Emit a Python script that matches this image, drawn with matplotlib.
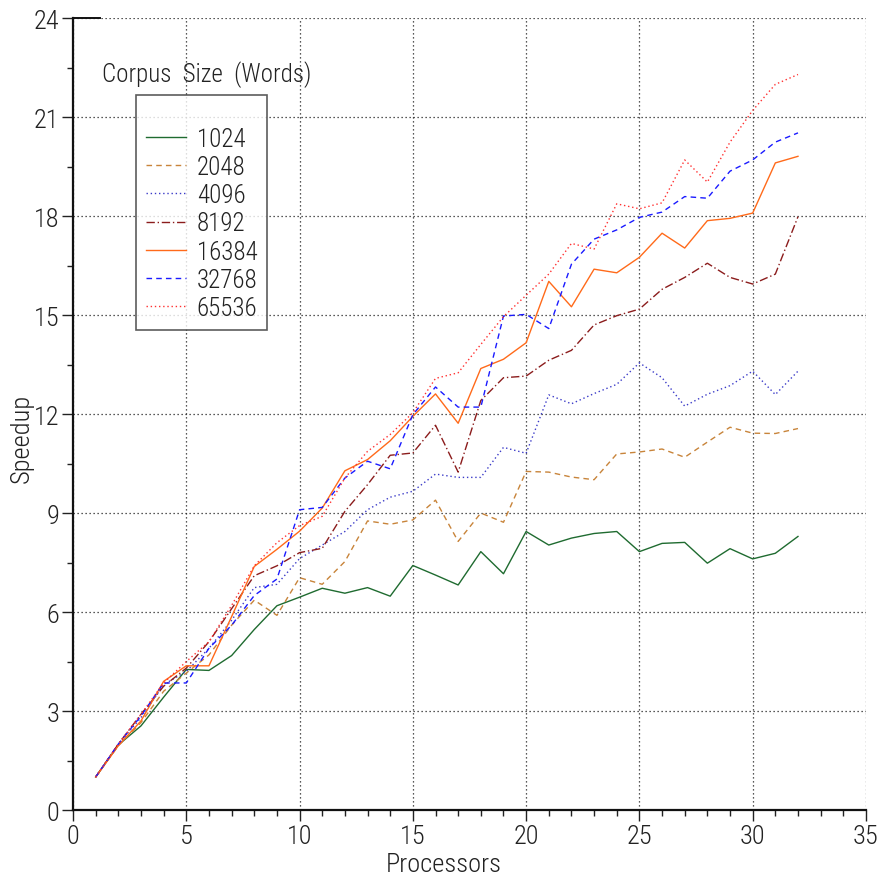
import matplotlib
matplotlib.use("Agg")
import matplotlib.pyplot as plt
from matplotlib.ticker import MultipleLocator

plt.rcParams["font.family"] = ["Roboto Condensed", "DejaVu Sans"]
plt.rcParams["font.weight"] = 300
plt.rcParams["axes.labelweight"] = 300

# ── Data ──────────────────────────────────────────────────────────────────────
processors = list(range(1, 33))

s1024 = [1.0, 1.97, 2.55, 3.42, 4.26, 4.23, 4.68, 5.47, 6.19, 6.45, 6.72, 6.57,
         6.74, 6.48, 7.41, 7.12, 6.82, 7.83, 7.16, 8.44, 8.03, 8.24, 8.38, 8.44,
         7.83, 8.08, 8.11, 7.48, 7.92, 7.61, 7.78, 8.29]
s2048 = [1.0, 1.95, 2.65, 3.6, 4.15, 4.7, 5.6, 6.36, 5.9, 7.04, 6.84, 7.53,
         8.76, 8.66, 8.79, 9.39, 8.14, 9.0, 8.72, 10.26, 10.24, 10.09, 10.01, 10.79,
         10.85, 10.94, 10.69, 11.15, 11.6, 11.42, 11.41, 11.56]
s4096 = [1.0, 2.0, 2.8, 3.8, 4.2, 4.9, 5.75, 6.74, 6.84, 7.62, 8.03, 8.44,
         9.1, 9.48, 9.66, 10.18, 10.08, 10.08, 10.99, 10.81, 12.58, 12.31, 12.62, 12.9,
         13.55, 13.1, 12.24, 12.6, 12.86, 13.3, 12.59, 13.3]
s8192 = [1.0, 2.0, 2.9, 3.75, 4.3, 5.1, 6.1, 7.1, 7.4, 7.8, 7.93, 9.05,
         9.86, 10.75, 10.82, 11.66, 10.24, 12.41, 13.1, 13.15, 13.63, 13.93, 14.7, 14.98,
         15.18, 15.78, 16.14, 16.57, 16.14, 15.94, 16.24, 17.98]
s16384 = [1.0, 1.95, 2.7, 3.9, 4.37, 4.37, 5.86, 7.38, 7.9, 8.45, 9.15, 10.28,
          10.62, 11.19, 11.93, 12.61, 11.72, 13.38, 13.66, 14.16, 16.02, 15.25, 16.39, 16.28,
          16.75, 17.48, 17.03, 17.86, 17.93, 18.09, 19.61, 19.81]
s32768 = [1.0, 2.0, 2.85, 3.85, 3.85, 4.9, 5.6, 6.5, 7.0, 9.1, 9.17, 10.06,
          10.57, 10.34, 11.98, 12.82, 12.21, 12.21, 14.97, 15.02, 14.59, 16.54, 17.3, 17.58,
          17.96, 18.12, 18.59, 18.54, 19.36, 19.7, 20.24, 20.52]
s65536 = [1.0, 2.0, 2.9, 3.85, 4.5, 5.1, 6.2, 7.4, 8.1, 8.62, 8.9, 10.06,
          10.87, 11.38, 12.04, 13.08, 13.25, 14.11, 14.95, 15.6, 16.24, 17.17, 17.0, 18.37,
          18.22, 18.4, 19.7, 19.03, 20.24, 21.2, 21.99, 22.29]

labels = ["1024", "2048", "4096", "8192", "16384", "32768", "65536"]
series = [s1024, s2048, s4096, s8192, s16384, s32768, s65536]

# ── Styles ────────────────────────────────────────────────────────────────────
styles = [
    dict(color="#1f6b30", ls="-"),
    dict(color="#c8843a", ls=(0, (4, 3))),
    dict(color="#3a3ac8", ls=(0, (1, 2))),
    dict(color="#8b1c1c", ls=(0, (6, 2, 1, 2))),
    dict(color="#ff6a1a", ls="-"),
    dict(color="#1a1aff", ls=(0, (4, 3))),
    dict(color="#ff3030", ls=(0, (1, 2))),
]
TXT = "#222222"

fig = plt.figure(figsize=(8.82, 8.78), dpi=100)
ax = fig.add_axes([0.0828, 0.0763, 0.899, 0.902])

for vals, lbl, st in zip(series, labels, styles):
    ax.plot(processors, vals, color=st["color"], linestyle=st["ls"], lw=1.0, label=lbl)

ax.set_xlim(0, 35)
ax.set_ylim(0, 24)
ax.xaxis.set_major_locator(MultipleLocator(5))
ax.xaxis.set_minor_locator(MultipleLocator(1))
ax.yaxis.set_major_locator(MultipleLocator(3))
ax.yaxis.set_minor_locator(MultipleLocator(1.5))

ax.grid(True, which="major", color="#222222", linestyle=(0, (1, 2.2)), lw=0.9)

for side in ["top", "right"]:
    ax.spines[side].set_visible(False)
for side in ["left", "bottom"]:
    ax.spines[side].set_linewidth(1.6)
    ax.spines[side].set_color("#111111")

ax.tick_params(axis="both", which="major", direction="out", length=8, width=1.0,
               labelsize=19, colors=TXT, pad=2)
ax.tick_params(axis="both", which="minor", direction="out", length=4.5, width=1.0,
               colors=TXT)
ax.axhline(24, xmin=0, xmax=0.034, color="#111111", lw=1.4, clip_on=False)

ax.set_xlabel("Processors", fontsize=19, color=TXT)
ax.xaxis.set_label_coords(0.467, -0.053)
ax.set_ylabel("Speedup", fontsize=19, color=TXT)
ax.yaxis.set_label_coords(-0.049, 0.47)

ax.text(0.036, 0.93, "Corpus  Size  (Words)", transform=ax.transAxes,
        fontsize=18, color=TXT, va="center", ha="left")

leg = ax.legend(loc="upper left", bbox_to_anchor=(0.0795, 0.903), fontsize=18,
                title=" ", title_fontsize=13,
                frameon=True, fancybox=False, edgecolor="#333333",
                handlelength=1.6, handletextpad=0.45, labelspacing=0.17,
                borderpad=0.38, borderaxespad=0)
leg.get_frame().set_linewidth(1.2)
for t in leg.get_texts():
    t.set_color(TXT)

fig.savefig("out.png", dpi=100)
